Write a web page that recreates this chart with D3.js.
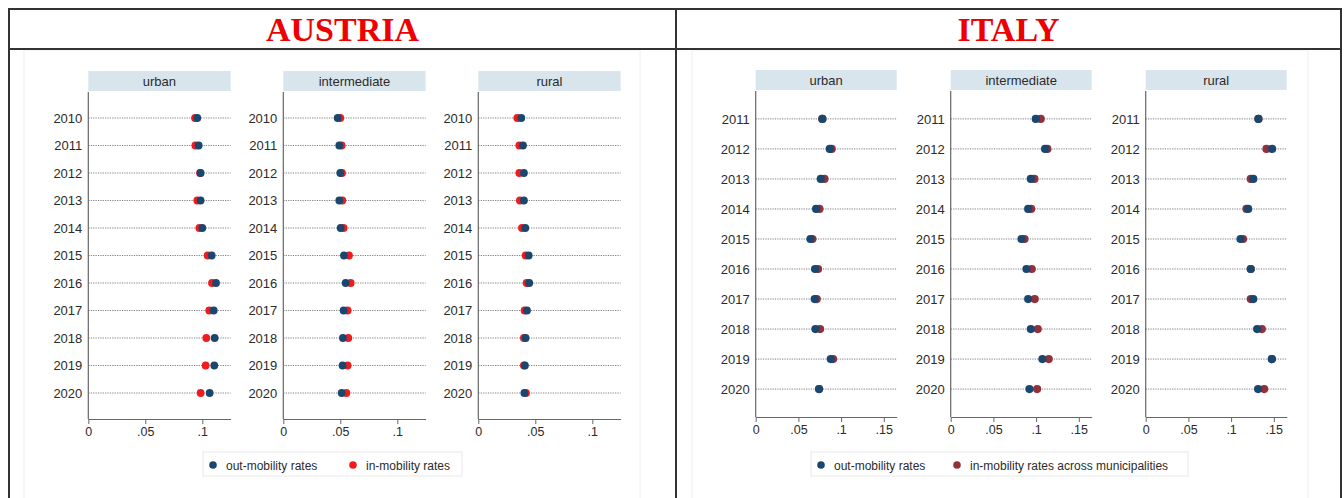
<!DOCTYPE html>
<html>
<head>
<meta charset="utf-8">
<script src="https://cdn.jsdelivr.net/npm/d3@7"></script>
<style>
  html, body { margin: 0; padding: 0; background: #fff; }
  svg { display: block; }
</style>
</head>
<body>
<svg id="chart" width="1344" height="498"></svg>
<script>
// ---------------- DATA ----------------
const austriaYears = ["2010","2011","2012","2013","2014","2015","2016","2017","2018","2019","2020"];
const italyYears   = ["2011","2012","2013","2014","2015","2016","2017","2018","2019","2020"];

const areaTypes = ["urban", "intermediate", "rural"];

// Austria
const atUrbanOut        = [0.0956,0.0968,0.0985,0.0985,0.1000,0.1082,0.1120,0.1100,0.1108,0.1105,0.1064];
const atUrbanIn         = [0.0936,0.0939,0.0980,0.0956,0.0974,0.1047,0.1085,0.1061,0.1035,0.1029,0.0985];
const atIntermediateOut = [0.0477,0.0491,0.0500,0.0491,0.0503,0.0532,0.0547,0.0529,0.0523,0.0520,0.0512];
const atIntermediateIn  = [0.0500,0.0512,0.0515,0.0518,0.0529,0.0576,0.0591,0.0564,0.0570,0.0564,0.0553];
const atRuralOut        = [0.0377,0.0392,0.0400,0.0400,0.0412,0.0442,0.0447,0.0427,0.0415,0.0409,0.0404];
const atRuralIn         = [0.0342,0.0360,0.0360,0.0365,0.0383,0.0415,0.0424,0.0406,0.0400,0.0400,0.0418];

// Italy
const itUrbanOut        = [0.0781,0.0867,0.0762,0.0707,0.0641,0.0695,0.0691,0.0699,0.0879,0.0742];
const itUrbanIn         = [0.0780,0.0890,0.0805,0.0746,0.0664,0.0730,0.0715,0.0754,0.0906,0.0742];
const itIntermediateOut = [0.0996,0.1105,0.0938,0.0907,0.0829,0.0887,0.0907,0.0938,0.1074,0.0922];
const itIntermediateIn  = [0.1054,0.1132,0.0980,0.0942,0.0864,0.0949,0.0984,0.1019,0.1148,0.1012];
const itRuralOut        = [0.1320,0.1480,0.1260,0.1200,0.1110,0.1230,0.1260,0.1305,0.1477,0.1316];
const itRuralIn         = [0.1320,0.1414,0.1230,0.1180,0.1140,0.1230,0.1230,0.1360,0.1477,0.1387];

const atTicks = [0, 0.05, 0.1];
const itTicks = [0, 0.05, 0.1, 0.15];
const atTickLabels = ["0", ".05", ".1"];
const itTickLabels = ["0", ".05", ".1", ".15"];

const countries = ["AUSTRIA", "ITALY"];
const atLegend = ["out-mobility rates", "in-mobility rates"];
const itLegend = ["out-mobility rates", "in-mobility rates across municipalities"];

// ---------------- STYLE ----------------
const COL_OUT = "#1a476f";
const COL_IN_AT = "#ee1c1c";
const COL_IN_IT = "#93303a";
const TXT = "#2b2b2b";
const FONT = "'Liberation Sans', Arial, sans-serif";

const svg = d3.select("#chart");

// ---------------- TABLE FRAME ----------------
const frame = svg.append("g");
// faint graph regions
frame.append("rect").attr("x", 24).attr("y", 50).attr("width", 616).attr("height", 460)
  .attr("fill", "#fff").attr("stroke", "#f0f0f0").attr("stroke-width", 1);
frame.append("rect").attr("x", 692).attr("y", 50).attr("width", 616).attr("height", 460)
  .attr("fill", "#fff").attr("stroke", "#f0f0f0").attr("stroke-width", 1);

const lineStyle = s => s.attr("stroke", "#333").attr("stroke-width", 2);
frame.append("line").attr("x1", 8).attr("x2", 1342).attr("y1", 9).attr("y2", 9).call(lineStyle);
frame.append("line").attr("x1", 8).attr("x2", 1342).attr("y1", 49).attr("y2", 49).call(lineStyle);
frame.append("line").attr("x1", 9).attr("x2", 9).attr("y1", 8).attr("y2", 498).call(lineStyle);
frame.append("line").attr("x1", 676).attr("x2", 676).attr("y1", 8).attr("y2", 498).call(lineStyle);
frame.append("line").attr("x1", 1341).attr("x2", 1341).attr("y1", 8).attr("y2", 498).call(lineStyle);

// titles
const titleX = [342.5, 1008.5];
countries.forEach((c, i) => {
  svg.append("text").attr("x", titleX[i]).attr("y", 41)
    .attr("text-anchor", "middle")
    .attr("font-family", "'Liberation Serif', 'Times New Roman', serif")
    .attr("font-weight", "bold").attr("font-size", 34)
    .attr("fill", "#ee0000").text(c);
});

// ---------------- PANELS ----------------
function drawPanel(cfg) {
  const g = svg.append("g");
  const x = d3.scaleLinear().domain([0, cfg.xmax]).range([cfg.x0, cfg.x0 + cfg.w]);
  const y = d3.scalePoint().domain(cfg.years).range([cfg.top, cfg.bottom]).padding(cfg.pad);

  // strip
  g.append("rect").attr("x", cfg.x0).attr("y", cfg.top - 21).attr("width", cfg.w).attr("height", 20)
    .attr("fill", "#d9e5ec");
  g.append("text").attr("x", cfg.x0 + cfg.w / 2).attr("y", cfg.top - 6.5)
    .attr("text-anchor", "middle").attr("font-family", FONT).attr("font-size", 13)
    .attr("fill", TXT).text(cfg.label);

  // gridlines
  g.selectAll(".grid").data(cfg.years).enter().append("line")
    .attr("x1", x(0)).attr("x2", x(cfg.xmax))
    .attr("y1", d => y(d)).attr("y2", d => y(d))
    .attr("stroke", "#6e6e6e").attr("stroke-width", 0.9).attr("stroke-dasharray", "1.2,1.2");

  // x axis
  const xa = g.append("g").attr("transform", `translate(0,${cfg.bottom})`)
    .call(d3.axisBottom(x).tickValues(cfg.ticks).tickFormat((d, i) => cfg.tickLabels[i])
      .tickSize(5).tickSizeOuter(0).tickPadding(3));
  xa.select(".domain").attr("stroke", "#666").attr("stroke-width", 1.2);
  xa.selectAll(".tick line").attr("stroke", "#666");
  xa.selectAll("text").attr("font-family", FONT).attr("font-size", 12.5).attr("fill", TXT);

  // y axis
  const ya = g.append("g").attr("transform", `translate(${cfg.x0},0)`)
    .call(d3.axisLeft(y).tickSize(0).tickPadding(6));
  ya.select(".domain").attr("stroke", "#666").attr("stroke-width", 1.2)
    .attr("d", `M0,${cfg.top}V${cfg.bottom}`);
  ya.selectAll("text").attr("font-family", FONT).attr("font-size", 13).attr("fill", TXT);

  // dots: in-mobility first, out-mobility on top
  g.selectAll(".din").data(cfg.years).enter().append("circle")
    .attr("cx", (d, i) => x(cfg.inVals[i])).attr("cy", d => y(d)).attr("r", cfg.r)
    .attr("fill", cfg.inColor);
  g.selectAll(".dout").data(cfg.years).enter().append("circle")
    .attr("cx", (d, i) => x(cfg.outVals[i])).attr("cy", d => y(d)).attr("r", cfg.r)
    .attr("fill", COL_OUT);
}

const atX0 = [88.3, 283.3, 478.3];
const atOut = [atUrbanOut, atIntermediateOut, atRuralOut];
const atIn  = [atUrbanIn, atIntermediateIn, atRuralIn];
areaTypes.forEach((lab, i) => drawPanel({
  x0: atX0[i], w: 142.3, xmax: 0.1248, top: 92, bottom: 419, pad: 0.945,
  years: austriaYears, outVals: atOut[i], inVals: atIn[i], inColor: COL_IN_AT,
  ticks: atTicks, tickLabels: atTickLabels, label: lab, r: 3.9
}));

const itX0 = [755.7, 950.7, 1145.7];
const itOut = [itUrbanOut, itIntermediateOut, itRuralOut];
const itIn  = [itUrbanIn, itIntermediateIn, itRuralIn];
areaTypes.forEach((lab, i) => drawPanel({
  x0: itX0[i], w: 141, xmax: 0.1651, top: 91, bottom: 417, pad: 0.93,
  years: italyYears, outVals: itOut[i], inVals: itIn[i], inColor: COL_IN_IT,
  ticks: itTicks, tickLabels: itTickLabels, label: lab, r: 4.1
}));

// ---------------- LEGENDS ----------------
function drawLegend(x, w, items, inColor, redX) {
  const g = svg.append("g");
  g.append("rect").attr("x", x).attr("y", 452).attr("width", w).attr("height", 24)
    .attr("fill", "#fff").attr("stroke", "#e8e8e8").attr("stroke-width", 1);
  const dots = [x + 10, redX];
  const cols = [COL_OUT, inColor];
  items.forEach((t, i) => {
    g.append("circle").attr("cx", dots[i]).attr("cy", 465).attr("r", 3.8).attr("fill", cols[i]);
    g.append("text").attr("x", dots[i] + 13).attr("y", 469.5)
      .attr("font-family", FONT).attr("font-size", 12).attr("fill", TXT).text(t);
  });
}
drawLegend(203, 259, atLegend, COL_IN_AT, 353);
drawLegend(811, 377, itLegend, COL_IN_IT, 957);
</script>
</body>
</html>
